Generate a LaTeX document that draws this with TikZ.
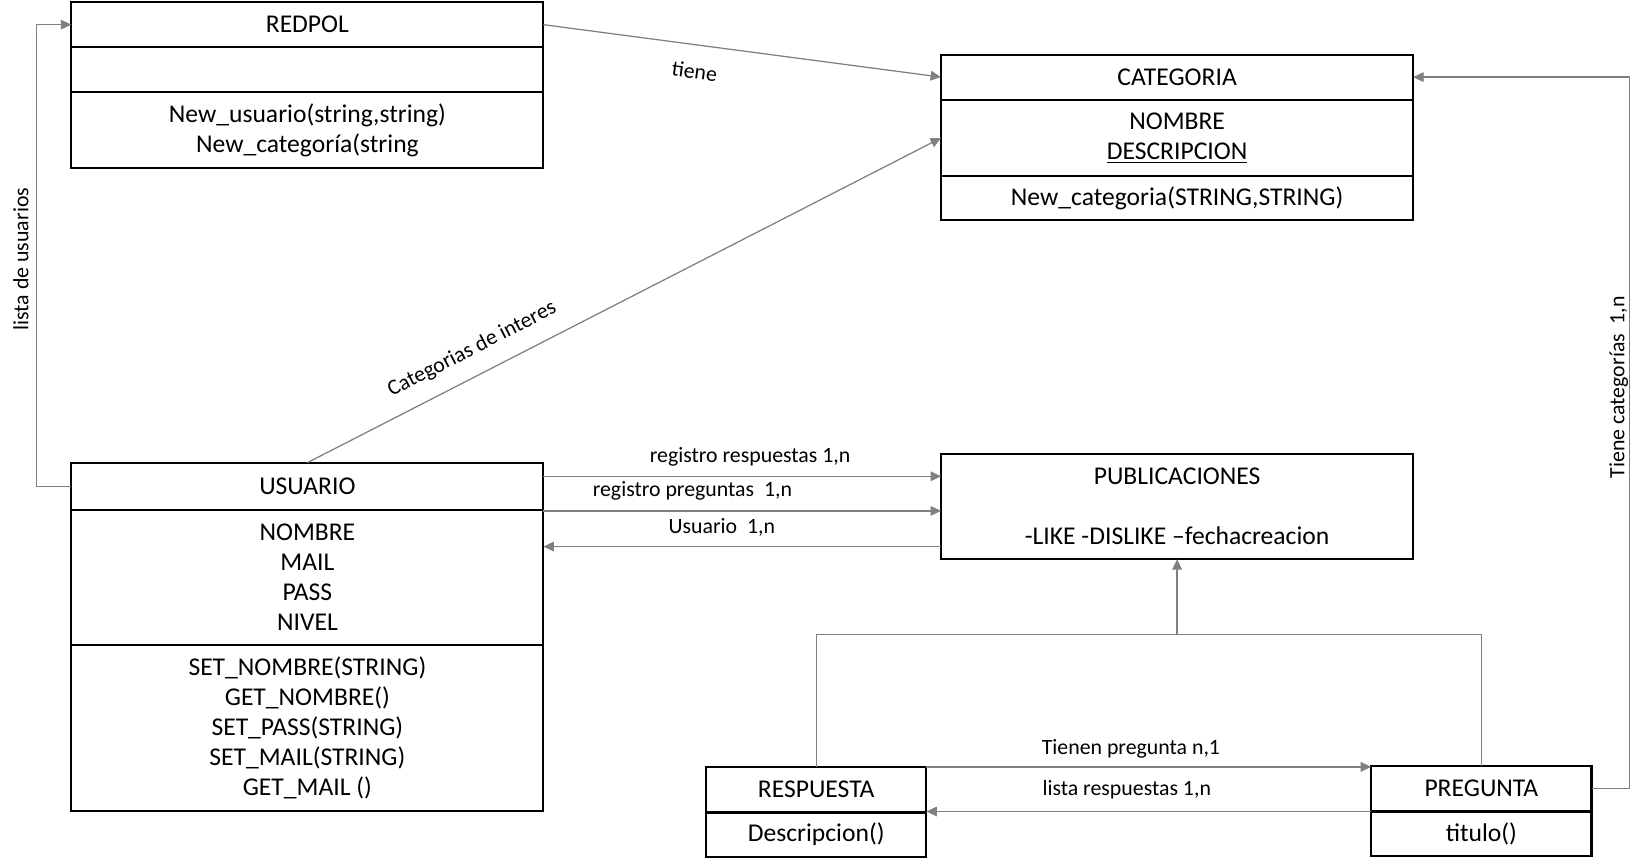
\documentclass[tikz,border=0pt]{standalone}
\usepackage{fontspec}
\setmainfont{Carlito}
\usetikzlibrary{arrows.meta}
\tikzset{
comp/.style={draw, line width=1pt, anchor=north west, inner sep=0pt, outer sep=0pt, align=center,
  font=\fontsize{12.2pt}{14.3pt}\selectfont},
wide/.style={comp, minimum width=225pt},
narrow/.style={comp, minimum width=105pt},
link/.style={draw=black!50, line width=0.6pt, -{Triangle[length=5pt,width=4.6pt]}},
plain/.style={draw=black!50, line width=0.6pt},
lbl/.style={font=\fontsize{10.4pt}{12pt}\selectfont, inner sep=0pt}
}

\begin{document}
\begin{tikzpicture}[x=0.5pt, y=-0.5pt]
\useasboundingbox (0,0) rectangle (1568,825);
% classes
\node[wide, minimum height=21.5pt] (redT) at (68,2) {REDPOL};
\node[wide, minimum height=21.5pt] (redA) at (68,45) {};
\node[wide, minimum height=36pt] (redO) at (68,88) {New\_usuario(string,string)\\New\_categoría(string};

\node[wide, minimum height=21.5pt] (catT) at (897,52) {CATEGORIA};
\node[wide, minimum height=36.5pt] (catA) at (897,95) {NOMBRE\\\underline{DESCRIPCION}};
\node[wide, minimum height=21pt] (catO) at (897,168) {New\_categoria(STRING,STRING)};

\node[wide, minimum height=22.5pt] (usrT) at (68,441) {USUARIO};
\node[wide, minimum height=64.5pt] (usrA) at (68,486) {NOMBRE\\MAIL\\PASS\\NIVEL};
\node[wide, minimum height=79pt] (usrO) at (68,615) {SET\_NOMBRE(STRING)\\GET\_NOMBRE()\\SET\_PASS(STRING)\\SET\_MAIL(STRING)\\GET\_MAIL ()};

\node[wide, minimum height=50pt] (pub) at (897,433) {PUBLICACIONES\\[14.3pt]-LIKE -DISLIKE \textendash fechacreacion};

\node[narrow, minimum height=21.5pt] (resT) at (673,731) {RESPUESTA};
\node[narrow, minimum height=21pt] (resO) at (673,774.5) {Descripcion()};
\node[narrow, minimum height=21.5pt] (preT) at (1307,730) {PREGUNTA};
\node[narrow, minimum height=21pt] (preO) at (1307,773.5) {titulo()};

% connectors
\coordinate (r1) at (0,454);
\coordinate (r2) at (0,487);
\coordinate (r3) at (0,521);
\coordinate (r4) at (0,605);
\coordinate (jn) at (pub.south |- r4);
\draw[link] (redT.east) -- (catT.west);
\draw[link] (usrT.north) -- (catA.west);
\draw[link] (usrT.west) -- ++(-33,0) |- (redT.west);
\draw[link] (usrT.east |- r1) -- (pub.west |- r1);
\draw[link] (usrA.east |- r2) -- (pub.west |- r2);
\draw[link] (pub.west |- r3) -- (usrA.east |- r3);
\draw[plain] (resT.north) |- (jn) -| (preT.north);
\draw[link] (jn) -- (pub.south);
\draw[link] (resT.north east) -- (resT.north east -| preT.west);
\draw[link] (preO.north west) -- (preO.north west -| resO.east);
\draw[link] (preT.east) -- ++(36,0) |- (catT.east);

% labels
\node[lbl, rotate=-7.5] (lTiene) at (662,68) {tiene};
\node[lbl, rotate=27.2] (lInteres) at (450,333) {Categorias de interes};
\node[lbl, rotate=90] (lUsuarios) at (20,247) {lista de usuarios};
\node[lbl] (lResp) at (715,435) {registro respuestas 1,n};
\node[lbl] (lPreg) at (660,468) {registro preguntas\ \ 1,n};
\node[lbl] (lUsr) at (688,503) {Usuario\ \ 1,n};
\node[lbl] (lTienen) at (1078,714) {Tienen pregunta n,1};
\node[lbl] (lLista) at (1074,753) {lista respuestas 1,n};
\node[lbl, rotate=90] (lCat) at (1543,369) {Tiene categorías\ \ 1,n};
\end{tikzpicture}
\end{document}
